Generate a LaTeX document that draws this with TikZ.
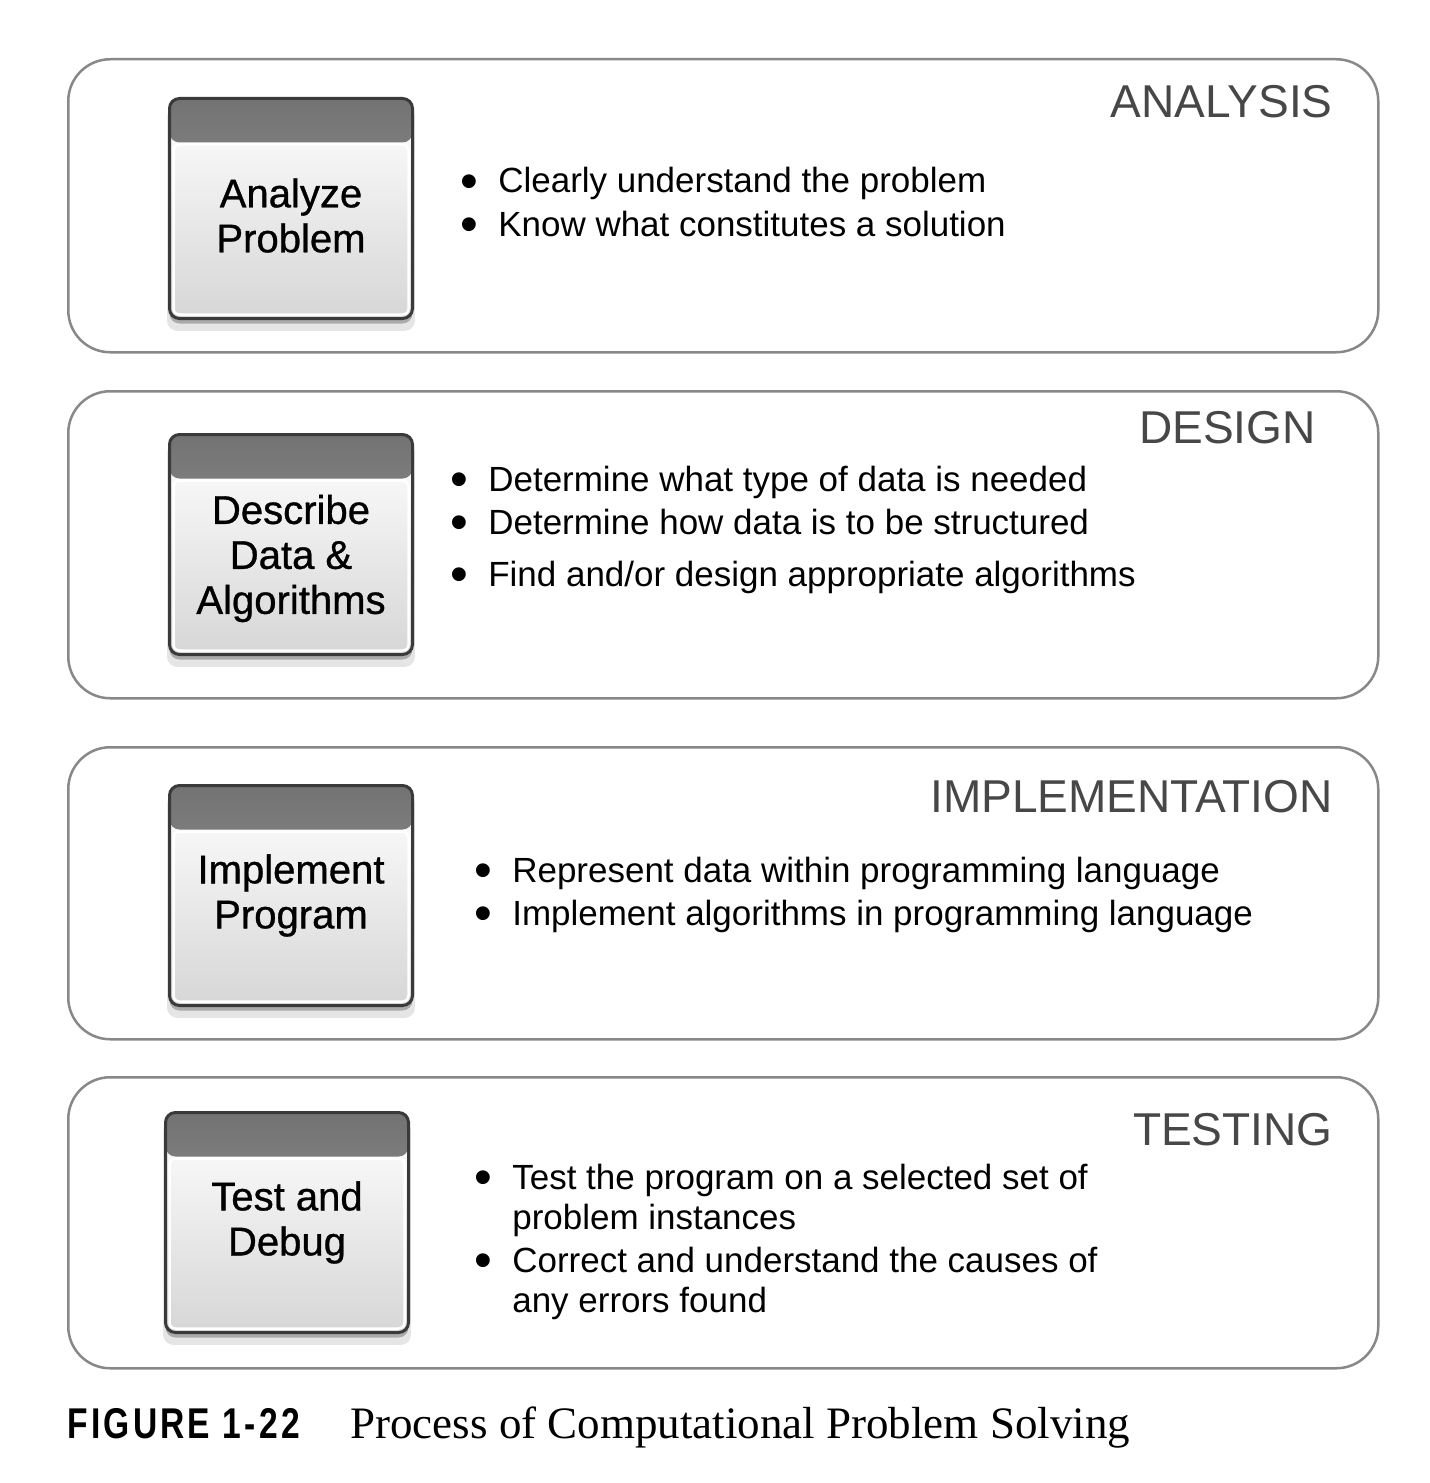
\documentclass[tikz,border=0pt]{standalone}
\usepackage{fontspec}
\setmainfont{Liberation Serif}
\setsansfont{Liberation Sans}
\newfontfamily\figfont[FakeStretch=0.78,LetterSpace=7.5]{Liberation Sans}
\newfontfamily\boxfont[FakeBold=0.8]{Liberation Sans}
\usetikzlibrary{positioning,shadows}
\definecolor{panelgray}{HTML}{888888}
\definecolor{headgray}{HTML}{474747}
\definecolor{boxline}{HTML}{3A3A3A}
\newcommand{\bul}{\makebox[7.6mm][l]{\raisebox{-0.3ex}{\scalebox{1.45}{\textbullet}}}}

\begin{document}
\begin{tikzpicture}[x=0.2mm,y=-0.2mm,
  panel/.style={draw=panelgray, line width=0.5mm, rounded corners=8.4mm, anchor=north west, minimum width=262mm, inner sep=0pt},
  stepbox/.style={draw=boxline, line width=0.6mm, rounded corners=2mm, anchor=north west, minimum width=48.6mm, minimum height=44mm, inner sep=0pt,
    top color=white, bottom color=black!16,
    drop shadow={shadow xshift=0mm, shadow yshift=-2mm, shadow scale=1.02, opacity=0.1, fill=black},
    drop shadow={shadow xshift=0mm, shadow yshift=-1mm, opacity=0.25, fill=black},
    path picture={
      \shade[top color=black!55, bottom color=black!38] (path picture bounding box.north west) rectangle ([yshift=-8.8mm]path picture bounding box.north east);
      \draw[white, line width=0.5mm, rounded corners=1.2mm] ([shift={(0.8mm,-9.2mm)}]path picture bounding box.north west) rectangle ([shift={(-0.8mm,0.8mm)}]path picture bounding box.south east);
    }},
  boxtext/.style={font=\boxfont\fontsize{22.8}{25.6}\selectfont, align=center, inner sep=0pt, text=black},
  phase/.style={font=\sffamily\fontsize{26.2}{30}\selectfont, text=headgray, anchor=base east, inner sep=0pt},
  point/.style={font=\sffamily\fontsize{19.9}{24}\selectfont, text=black, anchor=base west, inner sep=0pt}]
\fill[white] (0,0) rectangle (1429,1483);
\useasboundingbox (0,0) rectangle (1429,1483);

\node[panel, minimum height=58.6mm] (analysis) at (67,58) {};
\node[panel, minimum height=61.4mm] (design) at (67,390) {};
\node[panel, minimum height=58.4mm] (implementation) at (67,746) {};
\node[panel, minimum height=58.2mm] (testing) at (67,1076) {};

\node[stepbox] (analyze) at (168,97) {};
\node[stepbox] (describe) at (168,433) {};
\node[stepbox] (implement) at (168,784) {};
\node[stepbox] (debug) at (164,1111) {};

\node[boxtext] (analyzetext) at ([yshift=-1.4mm]analyze.center) {Analyze\\Problem};
\node[boxtext] (describetext) at ([yshift=-2.8mm]describe.center) {Describe\\Data \&\\Algorithms};
\node[boxtext] (implementtext) at (implement.center) {Implement\\Program};
\node[boxtext] (debugtext) at (debug.center) {Test and\\Debug};

\node[phase] (analysislabel) at (1333,118) {ANALYSIS};
\node[phase] (designlabel) at (1316,443) {DESIGN};
\node[phase] (implementationlabel) at (1333,812) {IMPLEMENTATION};
\node[phase] (testinglabel) at (1333,1145) {TESTING};

\node[point] (a1) at (460,193) {\bul Clearly understand the problem};
\node[point] (a2) at (460,236) {\bul Know what constitutes a solution};
\node[point] (d1) at (450,491) {\bul Determine what type of data is needed};
\node[point] (d2) at (450,534) {\bul Determine how data is to be structured};
\node[point] (d3) at (450,586) {\bul Find and/or design appropriate algorithms};
\node[point] (i1) at (474,882) {\bul Represent data within programming language};
\node[point] (i2) at (474,925) {\bul Implement algorithms in programming language};
\node[point] (t1) at (474,1189) {\bul Test the program on a selected set of};
\node[point] (t1b) at (512,1229) {problem instances};
\node[point] (t2) at (474,1272) {\bul Correct and understand the causes of};
\node[point] (t2b) at (512,1312) {any errors found};

\node[anchor=base west, inner sep=0pt, font=\figfont\bfseries\fontsize{24.5}{28}\selectfont] (fignum) at (67,1438) {FIGURE 1-22};
\node[anchor=base west, inner sep=0pt, font=\rmfamily\fontsize{25.6}{30}\selectfont] (figtitle) at (350,1438) {Process of Computational Problem Solving};
\end{tikzpicture}
\end{document}
